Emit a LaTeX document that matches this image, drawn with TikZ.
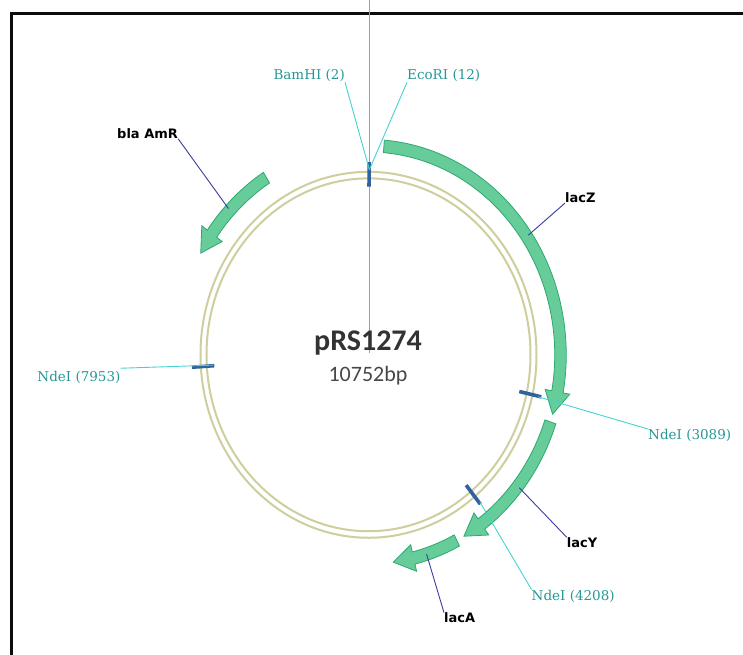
\documentclass[tikz,border=0pt]{standalone}
\usepackage{fontspec}
\newfontfamily\sitefont{DejaVu Serif}
\newfontfamily\genefont{DejaVu Sans}
\newfontfamily\titlefont{Carlito}
\definecolor{featfill}{RGB}{102,204,153}
\definecolor{featedge}{RGB}{46,168,110}
\definecolor{ringcol}{RGB}{206,206,158}
\definecolor{sitecol}{RGB}{48,98,158}
\definecolor{sitetext}{RGB}{38,150,150}
\definecolor{siteline}{RGB}{70,210,210}
\definecolor{geneline}{RGB}{60,60,160}
\definecolor{titlecol}{RGB}{51,51,51}
\newcommand\plasfeat[3]{%
  \path[feat] ({90-#1}:197.75) arc[start angle={90-#1}, end angle={90-#2}, radius=197.75]
    -- ({90-#2}:204.5) -- ({90-#3}:192) -- ({90-#2}:179.5) -- ({90-#2}:186.25)
    arc[start angle={90-#2}, end angle={90-#1}, radius=186.25] -- cycle;}
\newcommand\plassite[1]{%
  \draw[sitemark] ({90-#1}:154.5) -- ({90-#1}:177);}
\begin{document}
\begin{tikzpicture}[x=1pt,y=1pt,
  feat/.style={fill=featfill,draw=featedge,line width=0.8pt,line join=miter},
  ringline/.style={draw=ringcol,line width=2pt},
  sitemark/.style={draw=sitecol,line width=3.6pt},
  siteleader/.style={draw=siteline,line width=0.9pt},
  geneleader/.style={draw=geneline,line width=0.9pt},
  sitelabel/.style={inner sep=0pt,text=sitetext,font=\sitefont\fontsize{13.5}{16}\selectfont},
  genelabel/.style={inner sep=0pt,text=black,font=\genefont\bfseries\fontsize{13}{15}\selectfont},
  framebox/.style={draw=black!95,line width=2.6pt},
  axisline/.style={draw=black!38,line width=0.9pt}]
\useasboundingbox (-368.5,-299.2) rectangle (374.5,354.8);
% frame
\coordinate (fbl) at (-357.2,-310);
\coordinate (ftl) at (-357.2,341.1);
\coordinate (ftr) at (385,341.1);
\draw[framebox] (fbl) -- (ftl) -- (ftr);
% axis line
\coordinate (axtop) at (0.5,356);
\coordinate (axbot) at (0.5,1.8);
\draw[axisline] (axtop) -- (axbot);
\begin{scope}[yscale=1.089]
  % backbone
  \draw[ringline] (0,0) circle[radius=168];
  \draw[ringline] (0,0) circle[radius=162];
  % features
  \plasfeat{4.6}{100.2}{106.5}   % lacZ
  \plasfeat{108.7}{144}{150.2}   % lacY
  \plasfeat{152.6}{166.4}{172.6} % lacA
  \plasfeat{327.9}{305.4}{299.1} % bla AmR
  % sites
  \plassite{0.2}
  \plassite{102.6}
  \plassite{140.8}
  \plassite{266.3}
  % leader anchors
  \coordinate (topsite) at ({90-0.3}:170);
  \coordinate (s3089) at ({90-102.8}:174);
  \coordinate (s4208) at ({90-140.5}:175);
  \coordinate (s7953) at ({90-266.5}:155.5);
  \coordinate (blaend) at ({90-313.8}:194);
  \coordinate (lacZend) at ({90-55.5}:194);
  \coordinate (lacYend) at ({90-129}:194);
  \coordinate (lacAend) at ({90-162.4}:192);
\end{scope}
% site labels
\node[sitelabel,anchor=base east] (bam) at (-23.5,274.8) {BamHI (2)};
\node[sitelabel,anchor=base west] (eco) at (38.5,274.8) {EcoRI (12)};
\node[sitelabel,anchor=base west] (ndeA) at (279.5,-84.7) {NdeI (3089)};
\node[sitelabel,anchor=base west] (ndeB) at (163,-245.2) {NdeI (4208)};
\node[sitelabel,anchor=base west] (ndeC) at (-331.2,-26.9) {NdeI (7953)};
% gene labels
\node[genelabel,anchor=base west] (bla) at (-251.5,216.5) {bla AmR};
\node[genelabel,anchor=base west] (lacZ) at (196.5,152.1) {lacZ};
\node[genelabel,anchor=base west] (lacY) at (198.2,-192.5) {lacY};
\node[genelabel,anchor=base west] (lacA) at (75.5,-267.9) {lacA};
% leaders
\draw[siteleader] (bam.south east) -- (topsite);
\draw[siteleader] (eco.south west) -- (topsite);
\draw[siteleader] (ndeA.north west) -- (s3089);
\draw[siteleader] (ndeB.north west) -- (s4208);
\draw[siteleader] ([yshift=3pt]ndeC.north east) -- (s7953);
\draw[geneleader] (bla.south east) -- (blaend);
\draw[geneleader] (lacZ.south west) -- (lacZend);
\draw[geneleader] (lacY.north west) -- (lacYend);
\draw[geneleader] (lacA.north west) -- (lacAend);
% centre title
\node[anchor=base,inner sep=0pt,text=titlecol,font=\titlefont\bfseries\fontsize{30}{34}\selectfont] (title) at (-0.5,4.8) {pRS1274};
\node[anchor=base,inner sep=0pt,text=titlecol!90!white,font=\titlefont\fontsize{22}{26}\selectfont] (size) at (-0.5,-26.9) {10752bp};
\end{tikzpicture}
\end{document}
